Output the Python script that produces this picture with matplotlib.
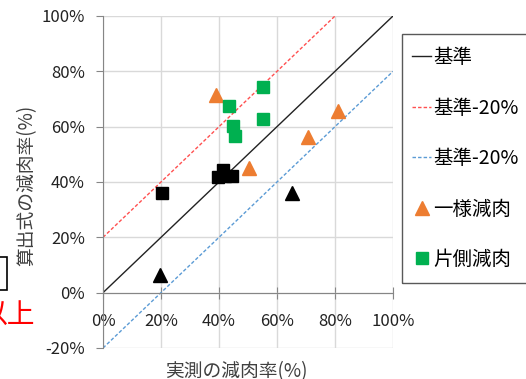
import numpy as np
import matplotlib
matplotlib.use("Agg")
import matplotlib.pyplot as plt
from matplotlib.ticker import FuncFormatter, MultipleLocator
from matplotlib.patches import Rectangle

plt.rcParams['font.family'] = ['Noto Sans CJK JP', 'DejaVu Sans']

# measured (x) vs calculated (y) wall-loss rates, in %
uniform_x = [38.8, 50.2, 70.8, 81.1]
uniform_y = [71.5, 45.0, 56.1, 65.8]
oneside_x = [55.3, 43.6, 55.3, 44.9, 45.4]
oneside_y = [74.3, 67.3, 62.9, 60.4, 56.8]
black_sq_x = [20.2, 41.4, 39.7, 42.0, 44.5]
black_sq_y = [36.2, 44.4, 41.9, 42.0, 42.2]
black_tri_x = [19.7, 65.2]
black_tri_y = [6.5, 36.0]

ref_x = [0, 100]
ref_y = [0, 100]
upper_x = [0, 80]
upper_y = [20, 100]
lower_x = [0, 100]
lower_y = [-20, 80]

fig = plt.figure(figsize=(5.26, 3.79), dpi=100)
ax = fig.add_axes([103 / 526, 1 - 348 / 379, 290 / 526, 332 / 379])

ax.set_xlim(0, 100)
ax.set_ylim(-20, 100)
ax.xaxis.set_major_locator(MultipleLocator(20))
ax.yaxis.set_major_locator(MultipleLocator(20))
pct = FuncFormatter(lambda v, p: f"{v:.0f}%")
ax.xaxis.set_major_formatter(pct)
ax.yaxis.set_major_formatter(pct)
ax.grid(True, color="#d9d9d9", lw=1)
ax.set_axisbelow(True)

for s in ["top", "right"]:
    ax.spines[s].set_visible(False)
ax.spines["bottom"].set_position(("data", 0))
ax.spines["bottom"].set_color("#868686")
ax.spines["left"].set_color("#868686")
ax.tick_params(axis="x", direction="inout", length=9, pad=10, color="#868686",
               labelsize=12, labelcolor="#222222")
ax.tick_params(axis="y", direction="out", length=5, pad=8, color="#868686",
               labelsize=12, labelcolor="#222222")

l1, = ax.plot(ref_x, ref_y, color="#222222", lw=1)
l2, = ax.plot(upper_x, upper_y, color="#ff5050", lw=1, ls=(0, (2.5, 1.5)))
l3, = ax.plot(lower_x, lower_y, color="#5b9bd5", lw=1, ls=(0, (2.5, 1.5)))
ax.plot(black_sq_x, black_sq_y, "s", color="black", ms=8.6, ls="none", clip_on=False)
ax.plot(black_tri_x, black_tri_y, "^", color="black", ms=9.5, ls="none", clip_on=False)
p1, = ax.plot(uniform_x, uniform_y, "^", color="#ed7d31", ms=10, ls="none")
p2, = ax.plot(oneside_x, oneside_y, "s", color="#00b050", ms=8.6, ls="none")

ax.set_xlabel("実測の減肉率(%)", fontsize=13.5, color="#404040")
ax.set_ylabel("算出式の減肉率(%)", fontsize=13.5, color="#404040")
ax.xaxis.set_label_coords(0.46, -0.04)
ax.yaxis.set_label_coords(-0.225, 0.49)

leg = fig.legend([l1, l2, l3, p1, p2],
                 ["基準", "基準-20%", "基準-20%", "一様減肉", "片側減肉"],
                 loc="upper left", bbox_to_anchor=(412 / 526, 1 - 47 / 379),
                 frameon=False, fontsize=14, handlelength=1.0, handletextpad=0.1,
                 labelspacing=1.52, borderaxespad=0, borderpad=0)
fig.patches.append(Rectangle((402 / 526, 1 - 283 / 379), 0.3, 249 / 379,
                             transform=fig.transFigure, fill=False,
                             edgecolor="#595959", lw=1, clip_on=False))

# fragments cut off at the left edge of the picture
fig.patches.append(Rectangle((-40 / 526, 1 - 290 / 379), 47 / 526, 33 / 379,
                             transform=fig.transFigure, fill=False,
                             edgecolor="black", lw=1.2))
fig.text(35 / 526, 1 - 316 / 379, "以上", color="red", fontsize=20,
         ha="right", va="center")

fig.savefig("out.png", dpi=100)
